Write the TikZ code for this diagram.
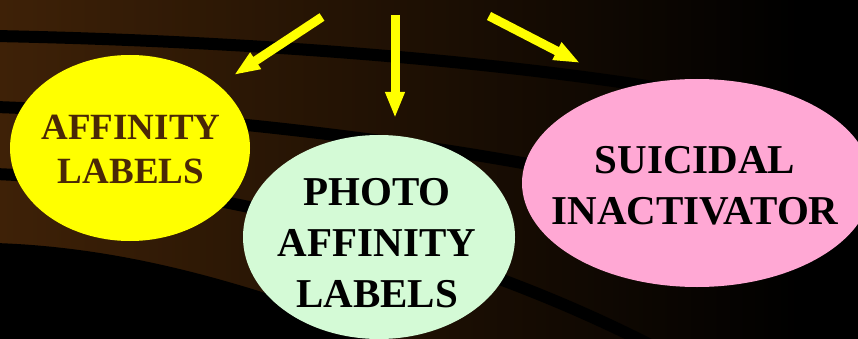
\documentclass[tikz,border=0pt]{standalone}
\usepackage{fontspec}
\setmainfont{Liberation Serif}
\usepackage{tikz}
\usetikzlibrary{arrows.meta, shapes.geometric}
\definecolor{SlideBrown}{HTML}{3E2107}
\definecolor{LabelInk}{HTML}{4A2806}
\definecolor{MintFill}{HTML}{D4FAD6}
\definecolor{PinkFill}{HTML}{FFA8D4}
\definecolor{PointerYellow}{HTML}{FFFF00}

\begin{document}
\begin{tikzpicture}[
    x=1pt, y=-1pt,
    blob/.style={
      ellipse,
      inner sep=0pt,
      outer sep=0pt,
    },
    caption/.style={
      align=center,
      text=black,
      font=\fontsize{41}{51}\selectfont\bfseries,
    },
    pointer/.style={
      draw=PointerYellow,
      line width=9pt,
      -{Triangle[length=26pt, width=18pt]},
    },
    stripe/.style={
      draw=black,
      line width=12pt,
    },
  ]
    \useasboundingbox (0,0) rectangle (858,339);
    \clip (0,0) rectangle (858,339);

    % slide background
    \fill[black] (0,0) rectangle (858,339);
    \shade[left color=SlideBrown, right color=black] (0,0) rectangle (800,339);
    \draw[stripe] (-5,36) .. controls (200,40) and (450,55) .. (660,88);
    \draw[stripe] (-5,107) .. controls (150,112) and (380,135) .. (560,170);
    \draw[stripe] (-5,174) .. controls (150,180) and (420,225) .. (660,350);
    \fill[black] (-5,243) .. controls (120,247) and (250,280) .. (420,350)
      -- (-5,350) -- cycle;

    \node[blob, fill=PointerYellow, minimum width=240pt, minimum height=186pt]
      (affinity) at (130,148) {};
    \node[blob, fill=MintFill, minimum width=272pt, minimum height=204pt]
      (photo) at (379,237) {};
    \node[blob, fill=PinkFill, minimum width=350pt, minimum height=208pt]
      (suicidal) at (697,183) {};

    \node[caption, text=LabelInk, font=\fontsize{37}{44}\selectfont\bfseries]
      (affinitytext) at (131,149) {AFFINITY\\LABELS};
    \node[caption] (phototext) at (377,243) {PHOTO\\AFFINITY\\LABELS};
    \node[caption] (suicidaltext) at (695,186) {SUICIDAL\\INACTIVATOR};

    \coordinate (leftfrom) at (322,17);
    \coordinate (leftto) at (234,75);
    \coordinate (midfrom) at (395,15);
    \coordinate (midto) at (395,118);
    \coordinate (rightfrom) at (489,16);
    \coordinate (rightto) at (580,63);
    \draw[pointer] (leftfrom) -- (leftto);
    \draw[pointer] (midfrom) -- (midto);
    \draw[pointer] (rightfrom) -- (rightto);
  \end{tikzpicture}
\end{document}
